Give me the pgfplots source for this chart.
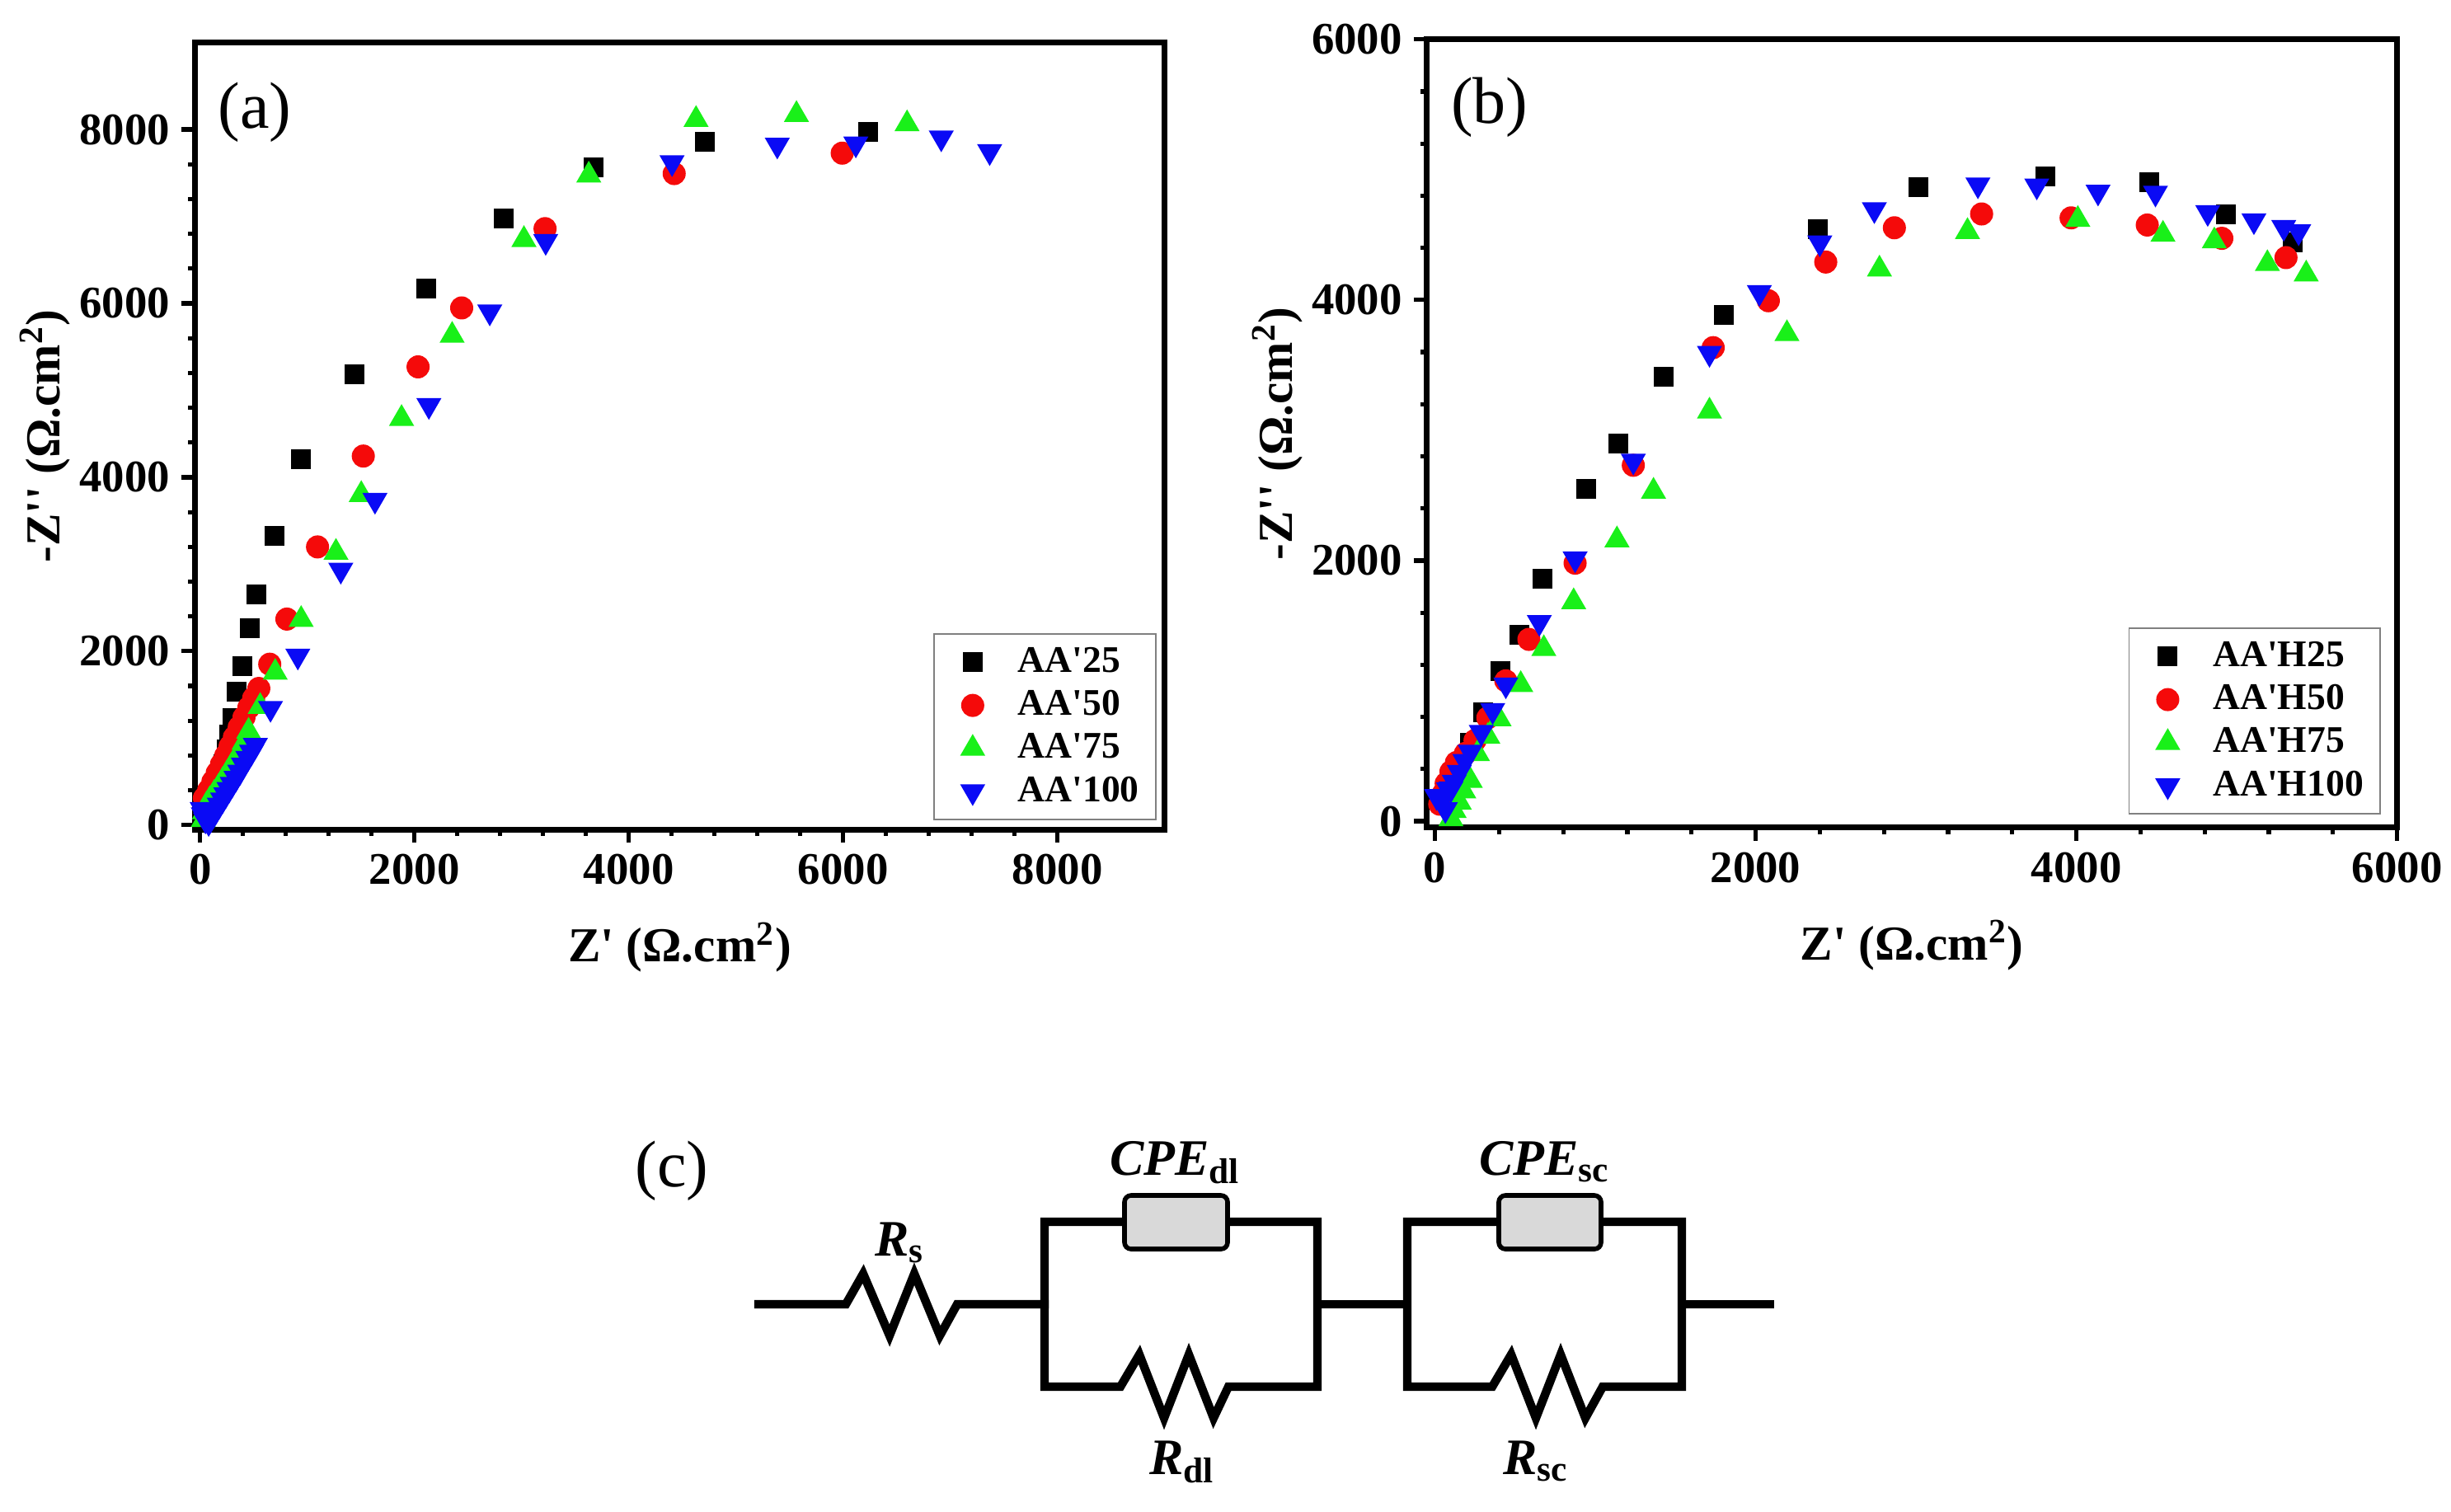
\documentclass[border=0pt]{standalone}
\usepackage{fontspec}
\setmainfont{Liberation Serif}
\usepackage{pgfplots}
\pgfplotsset{compat=1.18}
\definecolor{cblack}{RGB}{0,0,0}
\definecolor{cred}{RGB}{245,10,10}
\definecolor{cgreen}{RGB}{25,240,25}
\definecolor{cblue}{RGB}{10,10,245}
\pgfplotsset{
  eis/.style={
    scale only axis,
    axis line style={line width=1.75pt},
    every tick/.style={black, line width=1.3pt},
    major tick length=4pt, minor tick length=2pt,
    tick align=outside, tick pos=left,
    minor x tick num=4, minor y tick num=4,
    /pgf/number format/assume math mode=true,
    /pgf/number format/set thousands separator={},
    ticklabel style={font=\bfseries\fontsize{13.7}{16}\selectfont},
    label style={font=\bfseries\fontsize{14.8}{17}\selectfont},
    xlabel style={yshift=-4.5pt},
    ylabel shift=-4pt,
    xlabel={Z\textquotesingle\ (Ω.cm\textsuperscript{2})},
    ylabel={-Z\textquotesingle\textquotesingle\ (Ω.cm\textsuperscript{2})},
    legend cell align=left,
    legend style={draw=gray, fill=white, font=\bfseries\fontsize{11.4}{13}\selectfont,
      inner xsep=3pt, inner ysep=2pt, column sep=3pt,
      nodes={inner sep=2pt, text depth=0.15em}},
    legend image code/.code={\path[use as bounding box, draw=none, fill=none] (0pt,-4.8pt) rectangle (17.5pt,4.8pt);
      \draw[##1] plot coordinates {(8.75pt,0pt)};},
  },
  sq/.style={only marks, mark=square*, color=cblack, mark size=2.8pt},
  ci/.style={only marks, mark=*, color=cred, mark size=3.3pt},
  tu/.style={only marks, mark=triangle*, color=cgreen, mark size=4pt},
  td/.style={only marks, mark=triangle*, color=cblue, mark size=4pt, mark options={rotate=180}},
}
\begin{document}
\begin{tikzpicture}
\path[use as bounding box] (0pt,0pt) rectangle (743.25pt,-458.25pt);
% ---------------- (a)
\begin{axis}[eis, at={(59.05pt,-251.5pt)}, anchor=south west,
  width=294.1pt, height=238.6pt,
  xmin=-50, xmax=9000, ymin=-50, ymax=9000,
  xtick={0,2000,4000,6000,8000}, ytick={0,2000,4000,6000,8000},
  legend style={at={(0.9915,0.0115)}, anchor=south east}]
\addplot[sq] coordinates {(6234,7968)(4711,7854)(3672,7569)(2837,6980)(2110,6169)(1441,5188)(943,4212)(695,3325)(523,2654)(465,2261)(395,1824)(344,1533)(306,1235)(274,1045)(245,870)(215,700)(185,560)(155,440)(125,340)(95,260)(65,200)(40,150)};
\addlegendentry{AA\textquotesingle 25}
\addplot[ci] coordinates {(5992,7728)(4424,7493)(3219,6860)(2441,5948)(2034,5270)(1523,4244)(1096,3199)(810,2369)(650,1850)(548,1571)(500,1460)(455,1350)(410,1240)(365,1125)(320,1010)(280,905)(240,800)(200,700)(160,600)(120,500)(80,400)(40,310)};
\addlegendentry{AA\textquotesingle 50}
\addplot[tu] coordinates {(6597,8064)(5565,8171)(4628,8114)(3627,7474)(3022,6733)(2352,5631)(1880,4675)(1504,3800)(1268,3135)(943,2363)(701,1755)(561,1362)(453,1077)(410,950)(370,840)(330,750)(290,670)(250,590)(210,510)(170,430)(130,360)(90,290)(60,230)(40,150)(30,60)};
\addlegendentry{AA\textquotesingle 75}
\addplot[td] coordinates {(7368,7747)(6916,7905)(6119,7835)(5386,7822)(4404,7620)(3225,6714)(2703,5903)(2135,4827)(1632,3737)(1313,2933)(912,1945)(657,1343)(516,918)(480,840)(445,770)(405,690)(370,610)(335,540)(300,470)(270,410)(240,350)(210,290)(180,230)(150,170)(125,120)(100,70)(80,30)(50,60)(30,120)(20,180)};
\addlegendentry{AA\textquotesingle 100}
\node[font=\fontsize{20}{24}\selectfont] at (rel axis cs:0.062,0.911) {(a)};
\end{axis}
% ---------------- (b)
\begin{axis}[eis, at={(432.7pt,-250.98pt)}, anchor=south west,
  width=294.2pt, height=239.05pt,
  xmin=-50, xmax=6000, ymin=-50, ymax=6000,
  xtick={0,2000,4000,6000}, ytick={0,2000,4000,6000},
  legend style={at={(0.983,0.0167)}, anchor=south east}]
\addplot[sq] coordinates {(3805,4948)(3014,4863)(4456,4906)(4935,4660)(5349,4439)(2386,4545)(1800,3888)(1428,3409)(1144,2900)(944,2548)(670,1861)(526,1429)(409,1153)(302,835)(219,602)(150,430)(100,300)(60,180)};
\addlegendentry{AA\textquotesingle H25}
\addplot[ci] coordinates {(3409,4660)(2865,4554)(3967,4630)(4442,4575)(4907,4473)(5307,4325)(2437,4291)(2079,3994)(1735,3634)(1237,2731)(874,1980)(586,1395)(442,1077)(330,793)(250,620)(190,520)(134,450)(100,380)(70,290)(49,207)(30,130)};
\addlegendentry{AA\textquotesingle H50}
\addplot[tu] coordinates {(5433,4198)(5191,4278)(4860,4452)(4540,4503)(4009,4617)(3321,4524)(2772,4236)(2195,3740)(1712,3146)(1363,2531)(1135,2158)(865,1683)(679,1323)(535,1047)(400,784)(330,650)(265,517)(220,312)(180,230)(152,144)(120,80)(100,17)};
\addlegendentry{AA\textquotesingle H75}
\addplot[td] coordinates {(5386,4524)(5293,4558)(5107,4609)(4819,4672)(4493,4821)(4135,4829)(3753,4876)(3386,4884)(2740,4694)(2400,4439)(2023,4058)(1712,3591)(1237,2764)(874,2014)(651,1526)(442,1047)(360,850)(289,682)(220,530)(186,460)(152,375)(120,300)(100,249)(84,242)(40,150)(10,190)(65,90)};
\addlegendentry{AA\textquotesingle H100}
\node[font=\fontsize{20}{24}\selectfont] at (rel axis cs:0.0645,0.914) {(b)};
\end{axis}
% ---------------- (c) circuit
\begin{scope}[x=0.25pt, y=-0.25pt, line width=2.6pt, line join=miter, line cap=rect]
\node[font=\fontsize{20}{24}\selectfont] at (815,1420) {(c)};
\draw (920,1582) -- (1026,1582) -- (1047,1545) -- (1079,1620) -- (1109,1545) -- (1140,1620) -- (1161,1582) -- (1267,1582);
% block 1
\draw (1364,1482) -- (1267,1482) -- (1267,1682) -- (1359,1682) -- (1382,1643) -- (1412,1720) -- (1442,1643) -- (1472,1720) -- (1490,1682) -- (1598,1682) -- (1598,1482) -- (1488,1482);
\draw[fill=gray!30, rounded corners=2pt, line width=1.4pt] (1364,1450) rectangle (1489,1515);
\draw (1598,1582) -- (1707,1582);
% block 2
\draw (1818,1482) -- (1707,1482) -- (1707,1682) -- (1810,1682) -- (1833,1643) -- (1863,1720) -- (1893,1643) -- (1923,1720) -- (1944,1682) -- (2040,1682) -- (2040,1482) -- (1941,1482);
\draw[fill=gray!30, rounded corners=2pt, line width=1.4pt] (1818,1450) rectangle (1942,1515);
\draw (2040,1582) -- (2147,1582);
% labels
\begin{scope}[every node/.style={inner sep=0pt, anchor=base west, font=\bfseries\fontsize{15.5}{18}\selectfont}]
\node at (1056,1523) {\textit{R}\textsubscript{s}};
\node at (1341,1425) {\textit{CPE}\textsubscript{dl}};
\node at (1789,1425) {\textit{CPE}\textsubscript{sc}};
\node at (1389,1788) {\textit{R}\textsubscript{dl}};
\node at (1818,1788) {\textit{R}\textsubscript{sc}};
\end{scope}
\end{scope}
\end{tikzpicture}
\end{document}
